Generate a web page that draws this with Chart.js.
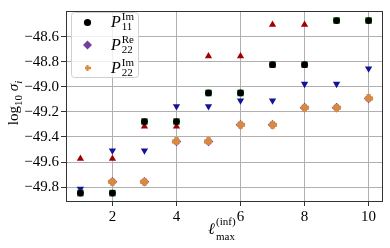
<!DOCTYPE html>
<html>
<head>
<meta charset="utf-8">
<script src="https://cdn.jsdelivr.net/npm/chart.js@4.4.0/dist/chart.umd.min.js"></script>
<style>
  html, body { margin: 0; padding: 0; background: #fff; }
</style>
</head>
<body>
<canvas id="chart" width="390" height="248"></canvas>
<script>
// data
const lmax = [1, 2, 3, 4, 5, 6, 7, 8, 9, 10];
const p11Im = [-49.848, -49.848, -49.277, -49.277, -49.049, -49.049, -48.823, -48.823, -48.471, -48.471];
const redUp = [-49.573, -49.573, -49.316, -49.316, -48.756, -48.756, -48.504, -48.504, null, null];
const blueDown = [-49.815, -49.508, -49.508, -49.155, -49.155, -49.109, -49.109, -48.977, -48.977, -48.854];
const p22 = [null, -49.757, -49.757, -49.436, -49.436, -49.303, -49.303, -49.166, -49.166, -49.093];
const xTicks = [2, 4, 6, 8, 10];
const yTicks = [-48.6, -48.8, -49.0, -49.2, -49.4, -49.6, -49.8];

const FONT = 'Liberation Serif';
const ORANGE = '#d98a3e';
const PURPLE = '#7040a0';

function toPoints(ys) {
    return lmax.map((x, i) => ({ x: x, y: ys[i] }));
}

// filled plus marker
function plusImage(size, arm, color) {
    const c = document.createElement('canvas');
    c.width = size;
    c.height = size;
    const g = c.getContext('2d');
    g.fillStyle = color;
    const o = (size - arm) / 2;
    g.fillRect(o, 0, arm, size);
    g.fillRect(0, o, size, arm);
    return c;
}
const plusMarker = plusImage(8, 4, ORANGE);

function drawScript(ctx, x, y, sup, sub) {
    ctx.font = 'italic 16px ' + FONT;
    ctx.fillText('P', x, y);
    const w = ctx.measureText('P').width;
    ctx.font = '11px ' + FONT;
    ctx.fillText(sup, x + w + 1, y - 7);
    ctx.fillText(sub, x + w + 1, y + 3);
}

const extras = {
    id: 'extras',
    afterDraw(chart) {
        const ctx = chart.ctx;
        const a = chart.chartArea;
        ctx.save();

        // frame
        ctx.strokeStyle = '#333';
        ctx.lineWidth = 1;
        ctx.strokeRect(Math.round(a.left) + 0.5, Math.round(a.top) + 0.5,
            Math.round(a.right - a.left) - 1, Math.round(a.bottom - a.top));

        // legend box
        const bx = 71, by = 12, bw = 67, bh = 65;
        ctx.fillStyle = 'rgba(255,255,255,0.8)';
        ctx.strokeStyle = '#d0d0d0';
        ctx.beginPath();
        ctx.roundRect(bx + 0.5, by + 0.5, bw, bh, 3);
        ctx.fill();
        ctx.stroke();

        ctx.fillStyle = '#000';
        ctx.beginPath();
        ctx.arc(87.5, 22.5, 3.6, 0, Math.PI * 2);
        ctx.fill();

        ctx.fillStyle = PURPLE;
        ctx.beginPath();
        ctx.moveTo(87.5, 40.5);
        ctx.lineTo(92, 45);
        ctx.lineTo(87.5, 49.5);
        ctx.lineTo(83, 45);
        ctx.closePath();
        ctx.fill();

        ctx.drawImage(plusImage(6, 2.4, ORANGE), 84.5, 65);

        ctx.fillStyle = '#000';
        ctx.textBaseline = 'alphabetic';
        ctx.textAlign = 'left';
        drawScript(ctx, 111, 27, 'Im', '11');
        drawScript(ctx, 111, 50, 'Re', '22');
        drawScript(ctx, 111, 73, 'Im', '22');

        // x title
        ctx.font = 'italic 16px ' + FONT;
        ctx.fillText('\u2113', 208, 234);
        ctx.font = '11px ' + FONT;
        ctx.fillText('max', 216, 240);
        ctx.fillText('(inf)', 216, 225);

        // y title
        ctx.translate(18, 103);
        ctx.rotate(-Math.PI / 2);
        ctx.textAlign = 'left';
        const parts = [
            ['log', '15px ' + FONT, 0],
            ['10', '11px ' + FONT, 4],
            [' \u03c3', 'italic 15px ' + FONT, 0],
            ['i', 'italic 11px ' + FONT, 4]
        ];
        let total = 0;
        parts.forEach(p => { ctx.font = p[1]; total += ctx.measureText(p[0]).width; });
        let cx = -total / 2;
        parts.forEach(p => {
            ctx.font = p[1];
            ctx.fillText(p[0], cx, p[2]);
            cx += ctx.measureText(p[0]).width;
        });

        ctx.restore();
    }
};

const tickFont = { family: FONT, size: 15 };

new Chart(document.getElementById('chart'), {
    type: 'scatter',
    data: {
        datasets: [
            {
                label: 'red',
                data: toPoints(redUp),
                pointStyle: 'triangle',
                pointRadius: 4.2,
                backgroundColor: '#a00000',
                borderColor: '#a00000',
                borderWidth: 0,
                order: 6
            },
            {
                label: 'blue',
                data: toPoints(blueDown),
                pointStyle: 'triangle',
                rotation: 180,
                pointRadius: 4.2,
                backgroundColor: '#12129a',
                borderColor: '#12129a',
                borderWidth: 0,
                order: 5
            },
            {
                label: 'green',
                data: toPoints(p11Im),
                pointStyle: 'rect',
                pointRadius: 4.7,
                backgroundColor: '#2a8a2a',
                borderWidth: 0,
                order: 4
            },
            {
                label: 'P11 Im',
                data: toPoints(p11Im),
                pointStyle: 'circle',
                pointRadius: 3.4,
                backgroundColor: '#000',
                borderWidth: 0,
                order: 3
            },
            {
                label: 'P22 Re',
                data: toPoints(p22),
                pointStyle: 'rectRot',
                pointRadius: 4.8,
                backgroundColor: PURPLE,
                borderWidth: 0,
                order: 2
            },
            {
                label: 'P22 Im',
                data: toPoints(p22),
                pointStyle: plusMarker,
                pointRadius: 4,
                backgroundColor: ORANGE,
                borderWidth: 0,
                order: 1
            }
        ]
    },
    options: {
        responsive: false,
        animation: false,
        events: [],
        layout: { padding: { top: 6, right: 7, left: 0, bottom: 0 } },
        plugins: {
            legend: { display: false },
            tooltip: { enabled: false }
        },
        scales: {
            x: {
                type: 'linear',
                min: 0.55,
                max: 10.45,
                afterBuildTicks: (s) => { s.ticks = xTicks.map(v => ({ value: v })); },
                afterFit: (s) => { s.height = 47; },
                grid: { color: '#b0b0b0', lineWidth: 1, tickLength: 5, tickColor: '#333' },
                border: { display: false },
                ticks: {
                    font: tickFont,
                    color: '#000',
                    padding: 2,
                    maxRotation: 0,
                    callback: (v) => String(v)
                }
            },
            y: {
                type: 'linear',
                min: -49.911,
                max: -48.395,
                afterBuildTicks: (s) => { s.ticks = yTicks.map(v => ({ value: v })); },
                afterFit: (s) => { s.width = 66; },
                grid: { color: '#b0b0b0', lineWidth: 1, tickLength: 5, tickColor: '#333' },
                border: { display: false },
                ticks: {
                    font: tickFont,
                    color: '#000',
                    padding: 2,
                    callback: (v) => '\u2212' + Math.abs(v).toFixed(1)
                }
            }
        }
    },
    plugins: [extras]
});
</script>
</body>
</html>
